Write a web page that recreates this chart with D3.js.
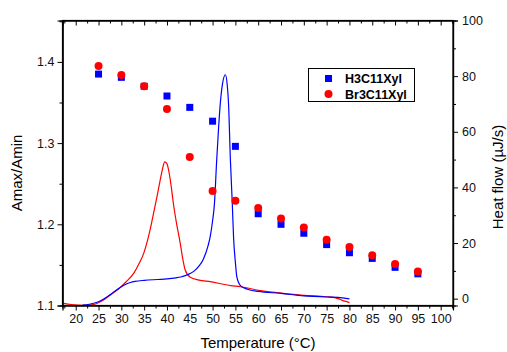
<!DOCTYPE html>
<html><head><meta charset="utf-8">
<script src="https://cdn.jsdelivr.net/npm/d3@7"></script>
<style>body{margin:0;background:#fff}svg{display:block;font-family:"Liberation Sans",Arial,sans-serif}</style>
</head><body><svg id="c" width="507" height="352"></svg>
<script>
const temps = [25,30,35,40,45,50,55,60,65,70,75,80,85,90,95];
const h3Ratio = [1.385,1.381,1.370,1.358,1.344,1.327,1.296,1.213,1.200,1.189,1.175,1.165,1.158,1.147,1.139];
const br3Ratio = [1.395,1.384,1.370,1.342,1.283,1.241,1.229,1.220,1.207,1.196,1.181,1.172,1.162,1.151,1.142];
const h3HeatT = [21.5,23,25,27,28,29,30,31,32,33,35,38,40,42,43,44,45,46,47,48,49,49.5,50,50.4,50.9,51.3,51.7,52.2,52.8,53.2,53.5,53.9,54.3,54.6,55,55.3,55.8,56.4,57,58,60,65,70,75,77.5,80];
const h3Heat = [-2.3,-2.0,-1.1,0.8,2.0,3.2,4.3,5.2,5.8,6.2,6.6,6.9,7.1,7.5,7.8,8.3,9.0,10.0,11.7,14.3,19.0,22.5,28,34,49.8,61,70.4,77.5,80.5,77,70,50,35,22,13,8,5.5,4.3,3.8,3.2,2.6,1.9,1.0,0.6,0.5,-0.1];
const br3HeatT = [17.3,19,21.7,24,25.4,26.5,27.6,29,29.8,31,32.7,34,34.9,36.3,37.1,37.8,38.5,39,39.5,40,40.5,41,41.4,42,42.9,43.5,44,45.1,47,49.5,54,56.1,60.5,65,70,75,77,78,79,80];
const br3Heat = [-1.7,-2.1,-2.4,-2.1,-1.1,0,1.3,3,4.1,6,9.1,13,16.3,24.7,31,36.6,42.5,46.5,49.2,48.5,45,39.5,34.3,28,20,14,10.3,7.7,6.7,6.1,4.7,4.3,2.9,2.0,1.2,0.7,0.3,-0.3,-0.9,-1.4];
const xTicks = [20,25,30,35,40,45,50,55,60,65,70,75,80,85,90,95,100];
const yLeftTicks = [1.1,1.2,1.3,1.4];
const yRightTicks = [0,20,40,60,80,100];
const seriesNames = ["H3C11Xyl","Br3C11Xyl"];

const svg = d3.select("#c");
const L=62.5,R=453,T=20.5,B=305.5;
const x = d3.scaleLinear().domain([17.1,102.7]).range([L,R]);
const yl = d3.scaleLinear().domain([1.1,1.451]).range([B,T]);
const yr = d3.scaleLinear().domain([-2.45,100]).range([B,T]);

// curves
const line = ()=>d3.line().x(d=>x(d[0])).y(d=>yr(d[1])).curve(d3.curveMonotoneX);
svg.append("path").datum(br3HeatT.map((t,i)=>[t,br3Heat[i]])).attr("d",line()).attr("fill","none").attr("stroke","#ff0000").attr("stroke-width",1.2);
svg.append("path").datum(h3HeatT.map((t,i)=>[t,h3Heat[i]])).attr("d",line()).attr("fill","none").attr("stroke","#0000ff").attr("stroke-width",1.2);

// points
svg.append("g").selectAll("rect").data(temps).join("rect")
  .attr("x",(d)=>x(d)-3.5).attr("y",(d,i)=>yl(h3Ratio[i])-3.5).attr("width",7).attr("height",7).attr("fill","#0000ff");
svg.append("g").selectAll("circle").data(temps).join("circle")
  .attr("cx",d=>x(d)).attr("cy",(d,i)=>yl(br3Ratio[i])).attr("r",4).attr("fill","#ff0000");

// axes
const minorX = d3.range(17.5,103,2.5).filter(v=>!xTicks.includes(v));
const gBot = svg.append("g").attr("transform",`translate(0,${B})`);
gBot.call(d3.axisBottom(x).tickValues(xTicks).tickSize(5).tickPadding(4).tickFormat(d3.format("d")));
gBot.append("g").call(d3.axisBottom(x).tickValues(minorX).tickSize(3).tickFormat(""));
const gTop = svg.append("g").attr("transform",`translate(0,${T})`);
gTop.call(d3.axisBottom(x).tickValues(xTicks).tickSize(5).tickFormat(""));
gTop.append("g").call(d3.axisBottom(x).tickValues(minorX).tickSize(3).tickFormat(""));
const gLeft = svg.append("g").attr("transform",`translate(${L},0)`);
gLeft.call(d3.axisLeft(yl).tickValues(yLeftTicks).tickSize(5).tickPadding(3).tickFormat(d3.format(".1f")));
gLeft.append("g").call(d3.axisLeft(yl).tickValues([1.15,1.25,1.35,1.45]).tickSize(3).tickFormat(""));
const gRight = svg.append("g").attr("transform",`translate(${R},0)`);
gRight.call(d3.axisRight(yr).tickValues(yRightTicks).tickSize(5).tickPadding(4).tickFormat(d3.format("d")));
gRight.append("g").call(d3.axisRight(yr).tickValues([10,30,50,70,90]).tickSize(3).tickFormat(""));
svg.selectAll(".domain").attr("stroke","#000").attr("stroke-width",1.2);
svg.selectAll(".tick line").attr("stroke","#000");
svg.selectAll(".tick text").attr("font-size",12.5).attr("fill","#111").attr("font-family","Liberation Sans, Arial, sans-serif");
svg.append("rect").attr("x",L).attr("y",T).attr("width",R-L).attr("height",B-T).attr("fill","none").attr("stroke","#000").attr("stroke-width",1.2);

// titles
svg.append("text").attr("x",258).attr("y",348).attr("text-anchor","middle").attr("font-size",15).text("Temperature (°C)");
svg.append("text").attr("transform","translate(22,173) rotate(-90)").attr("text-anchor","middle").attr("font-size",15).text("Amax/Amin");
svg.append("text").attr("transform","translate(503,177) rotate(-90)").attr("text-anchor","middle").attr("font-size",15).text("Heat flow (µJ/s)");

// legend
const lg = svg.append("g");
lg.append("rect").attr("x",308.5).attr("y",68.5).attr("width",106).attr("height",33).attr("fill","#fff").attr("stroke","#000").attr("stroke-width",1);
lg.append("rect").attr("x",325).attr("y",75).attr("width",7).attr("height",7).attr("fill","#0000ff");
lg.append("circle").attr("cx",328.5).attr("cy",94).attr("r",4).attr("fill","#ff0000");
lg.append("text").attr("x",345).attr("y",83).attr("font-size",12.5).attr("font-weight","bold").text(seriesNames[0]);
lg.append("text").attr("x",345).attr("y",98.5).attr("font-size",12.5).attr("font-weight","bold").text(seriesNames[1]);
</script></body></html>
